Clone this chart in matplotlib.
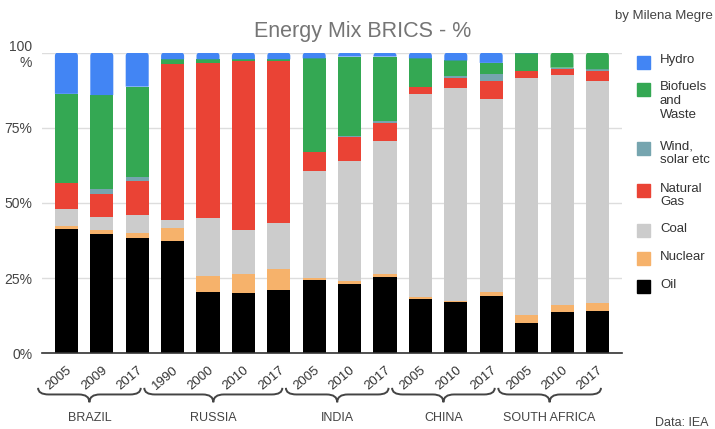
import numpy as np
import matplotlib
matplotlib.use("Agg")
from matplotlib import pyplot as plt
from matplotlib.path import Path
from matplotlib.patches import PathPatch, Rectangle
from matplotlib.transforms import blended_transform_factory

plt.rcParams['font.family'] = ['Liberation Sans', 'DejaVu Sans']

years = ['2005', '2009', '2017', '1990', '2000', '2010', '2017', '2005', '2010', '2017',
         '2005', '2010', '2017', '2005', '2010', '2017']
countries = ['BRAZIL', 'RUSSIA', 'INDIA', 'CHINA', 'SOUTH AFRICA']
group_sizes = [3, 4, 3, 3, 3]

# shares in %, bottom to top
oil = [41.3, 39.7, 38.5, 37.4, 20.3, 20.0, 21.1, 24.3, 23.1, 25.4, 18.1, 16.9, 18.9, 10.1, 13.6, 14.1]
nuclear = [1.2, 1.3, 1.5, 4.2, 5.4, 6.3, 7.1, 0.7, 1.1, 1.1, 0.6, 0.6, 1.6, 2.7, 2.3, 2.6]
coal = [5.6, 4.5, 5.9, 2.6, 19.3, 14.8, 15.3, 35.8, 39.8, 44.1, 67.5, 70.9, 64.0, 78.7, 76.7, 73.9]
gas = [8.5, 7.5, 11.4, 52.2, 51.7, 56.0, 53.6, 6.3, 7.9, 6.0, 2.3, 3.1, 6.2, 2.3, 2.1, 3.2]
wind = [0, 1.6, 1.5, 0, 0, 0, 0, 0, 0.4, 0.7, 0, 0.6, 2.3, 0, 0.3, 0.7]
bio = [29.7, 31.3, 29.9, 1.4, 1.1, 0.7, 0.7, 31.0, 26.4, 21.4, 9.6, 5.3, 3.6, 6.0, 5.0, 5.5]
hydro = [13.7, 14.1, 11.3, 2.2, 2.2, 2.2, 2.2, 1.9, 1.3, 1.3, 1.9, 2.6, 3.4, 0.2, 0, 0]

series = [
    ('Oil', oil, '#000000'),
    ('Nuclear', nuclear, '#f6b26b'),
    ('Coal', coal, '#cccccc'),
    ('Natural\nGas', gas, '#ea4335'),
    ('Wind,\nsolar etc', wind, '#76a5af'),
    ('Biofuels\nand\nWaste', bio, '#34a853'),
    ('Hydro', hydro, '#4285f4'),
]

fig = plt.figure(figsize=(7.15, 4.29), dpi=100)
ax = fig.add_axes([0.0587, 0.1765, 0.811, 0.7007])

x = np.arange(len(years))
bottom = np.zeros(len(years))
containers = []
for name, vals, col in series:
    vals = np.array(vals)
    containers.append(ax.bar(x, vals, 0.65, bottom=bottom, color=col, zorder=3))
    bottom += vals

ax.set_xlim(-0.69, len(years) - 0.31)
ax.set_ylim(0, 100)

# round the top corners of the uppermost segment of each bar
rx, ry = 0.09, 1.1
for i in range(len(years)):
    top = None
    for bc in containers:
        if bc[i].get_height() > 0:
            top = bc[i]
    x0, y0 = top.get_x(), top.get_y()
    x1, y1 = x0 + top.get_width(), y0 + top.get_height()
    r_y = min(ry, top.get_height())
    verts = [(x0, y0), (x1, y0), (x1, y1 - r_y), (x1, y1), (x1 - rx, y1),
             (x0 + rx, y1), (x0, y1), (x0, y1 - r_y), (x0, y0)]
    codes = [Path.MOVETO, Path.LINETO, Path.LINETO, Path.CURVE3, Path.CURVE3,
             Path.LINETO, Path.CURVE3, Path.CURVE3, Path.CLOSEPOLY]
    ax.add_patch(PathPatch(Path(verts, codes), facecolor=top.get_facecolor(),
                           edgecolor='none', zorder=3))
    top.set_visible(False)

ax.set_yticks([0, 25, 50, 75, 100])
ax.set_yticklabels(['0%', '25%', '50%', '75%', '100\n%'], fontsize=10, color='#444444',
                   linespacing=1.2)
ax.tick_params(axis='y', length=0, pad=7)
ax.set_xticks([])
ax.grid(axis='y', color='#dddddd', lw=1, zorder=0)
for s in ['top', 'right', 'left']:
    ax.spines[s].set_visible(False)
ax.spines['bottom'].set_color('#333333')
ax.spines['bottom'].set_linewidth(1.2)
ax.spines['bottom'].set_zorder(4)

trans = blended_transform_factory(ax.transData, ax.transAxes)

# year labels
for xi, yr in zip(x, years):
    ax.text(xi + 0.22, -0.035, yr, rotation=40, ha='right', va='top', fontsize=9.5,
            color='#333333', transform=trans, clip_on=False)

# braces and country names
y_end, y_flat, y_tip = -0.115, -0.137, -0.163
start = 0
for name, n in zip(countries, group_sizes):
    x0 = start - 0.8
    x1 = start + n - 1 + 0.1
    xm = (x0 + x1) / 2
    d = 0.3
    verts = [(x0, y_end), (x0, y_flat), (x0 + d, y_flat),
             (xm - d, y_flat), (xm, y_flat), (xm, y_tip),
             (xm, y_flat), (xm + d, y_flat),
             (x1 - d, y_flat), (x1, y_flat), (x1, y_end)]
    codes = [Path.MOVETO, Path.CURVE3, Path.CURVE3,
             Path.LINETO, Path.CURVE3, Path.CURVE3,
             Path.CURVE3, Path.CURVE3,
             Path.LINETO, Path.CURVE3, Path.CURVE3]
    ax.add_patch(PathPatch(Path(verts, codes), fill=False, edgecolor='#444444', lw=1.4,
                           transform=trans, clip_on=False))
    ax.text(xm, -0.215, name, ha='center', va='center', fontsize=9, color='#444444',
            transform=trans, clip_on=False)
    start += n

# legend drawn by hand so the swatch sits on the first text line
legend_rows = [('Hydro', 62), ('Biofuels\nand\nWaste', 89), ('Wind,\nsolar etc', 148),
               ('Natural\nGas', 190), ('Coal', 231), ('Nuclear', 258), ('Oil', 286)]
colors = {name: col for name, vals, col in series}
W, H = 715, 429
for label, ypx in legend_rows:
    fig.patches.append(Rectangle((637 / W, 1 - (ypx + 6.5) / H), 13 / W, 13 / H,
                                 color=colors[label], transform=fig.transFigure))
    fig.text(660 / W, 1 - (ypx - 7.5) / H, label, ha='left', va='top', fontsize=9.5,
             color='#333333', linespacing=1.2)

fig.text(363 / W, 1 - 31 / H, 'Energy Mix BRICS - %', ha='center', va='center',
         fontsize=15.5, color='#757575')
fig.text(615 / W, 1 - 16 / H, 'by Milena Megre', ha='left', va='center', fontsize=9.5,
         color='#444444')
fig.text(655 / W, 1 - 423 / H, 'Data: IEA', ha='left', va='center', fontsize=9,
         color='#444444')

fig.savefig('out.png', dpi=100)
